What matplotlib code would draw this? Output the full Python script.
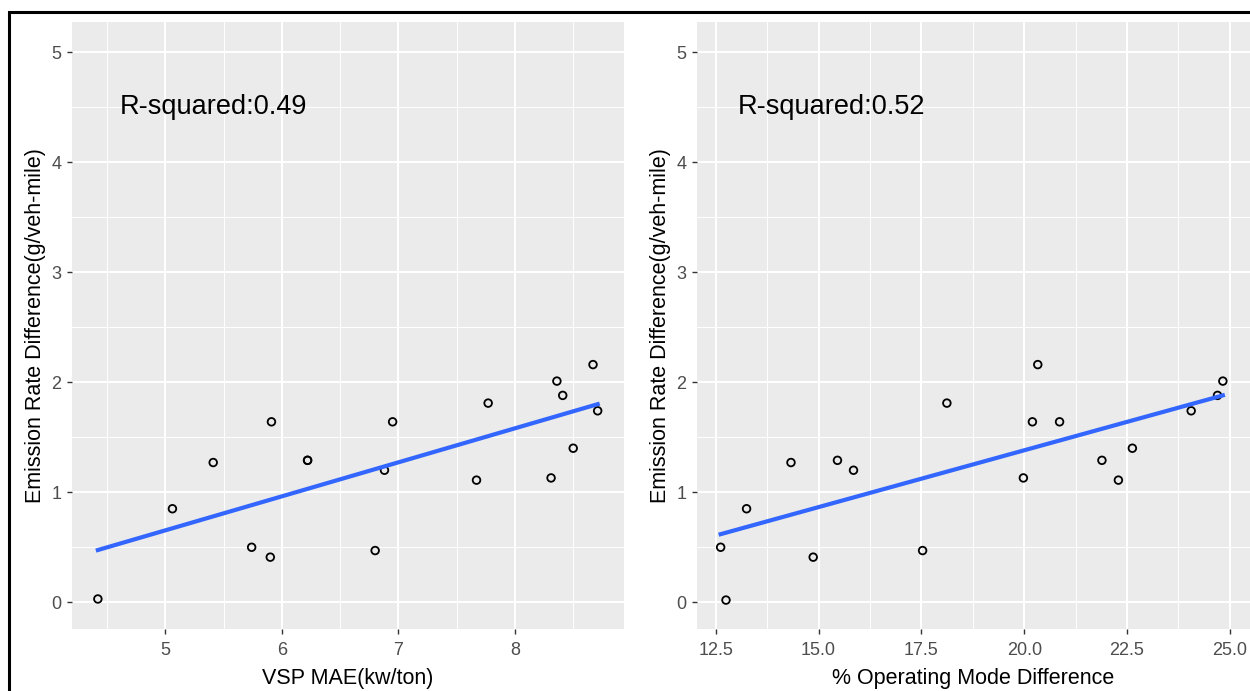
import numpy as np
import matplotlib
matplotlib.use("Agg")
import matplotlib.pyplot as plt
from matplotlib.ticker import MultipleLocator
from matplotlib.patches import Rectangle

plt.rcParams['font.family'] = ['Liberation Sans', 'DejaVu Sans']

# --- donnees ----------------------------------------------------------
vsp_mae = [4.42, 5.06, 5.41, 5.74, 5.90, 5.91, 6.22, 6.22, 6.80, 6.88,
           6.95, 7.67, 7.77, 8.31, 8.36, 8.41, 8.50, 8.67, 8.71]
emis_vsp = [0.03, 0.85, 1.27, 0.50, 0.41, 1.64, 1.29, 1.29, 0.47, 1.20,
            1.64, 1.11, 1.81, 1.13, 2.01, 1.88, 1.40, 2.16, 1.74]

opmode_diff = [12.62, 12.75, 13.25, 14.33, 14.87, 15.46, 15.85, 17.53, 18.12,
               19.98, 20.20, 20.33, 20.86, 21.89, 22.29, 22.63, 24.06, 24.70, 24.83]
emis_op = [0.50, 0.02, 0.85, 1.27, 0.41, 1.29, 1.20, 0.47, 1.81,
           1.13, 1.64, 2.16, 1.64, 1.29, 1.11, 1.40, 1.74, 1.88, 2.01]

r2_labels = ["R-squared:0.49", "R-squared:0.52"]
x_titles = ["VSP MAE(kw/ton)", "% Operating Mode Difference"]
y_title = "Emission Rate Difference(g/veh-mile)"

GRIS = "#EBEBEB"
BLEU = "#3366FF"


def panel(ax, x, y, xlim, major, label, r2, r2_x):
    ax.set_facecolor(GRIS)
    ax.scatter(x, y, s=30, facecolors="none", edgecolors="black",
               linewidths=1.3, zorder=3)
    # droite de regression (lm)
    a, b = np.polyfit(x, y, 1)
    xs = np.linspace(min(x), max(x), 80)
    ax.plot(xs, a * xs + b, color=BLEU, lw=3.0, zorder=4)

    ax.set_xlim(*xlim)
    ax.set_ylim(-0.243, 5.273)
    ax.xaxis.set_major_locator(MultipleLocator(major))
    ax.xaxis.set_minor_locator(MultipleLocator(major / 2))
    ax.yaxis.set_major_locator(MultipleLocator(1))
    ax.yaxis.set_minor_locator(MultipleLocator(0.5))
    ax.grid(which="major", color="white", lw=1.5)
    ax.grid(which="minor", color="white", lw=0.7)
    ax.set_axisbelow(True)
    for s in ax.spines.values():
        s.set_visible(False)
    ax.tick_params(which="major", length=3.5, width=1, color="#333333",
                   labelcolor="#4D4D4D", labelsize=13, pad=4)
    ax.tick_params(axis="x", which="major", pad=6)
    ax.tick_params(which="minor", length=0)
    ax.set_xlabel(label, fontsize=15.5, labelpad=6)
    ax.set_ylabel(y_title, fontsize=15.5, labelpad=4)
    ax.text(r2_x, 4.5, r2, fontsize=19.5, va="center", ha="left")


fig = plt.figure(figsize=(12.5, 6.91), dpi=100)
ax1 = fig.add_axes([0.0576, 0.0897, 0.4416, 0.8784])
ax2 = fig.add_axes([0.5576, 0.0897, 0.4424, 0.8784])

panel(ax1, vsp_mae, emis_vsp, (4.198, 8.936), 1.0, x_titles[0], r2_labels[0], 4.61)
panel(ax2, opmode_diff, emis_op, (12.045, 25.49), 2.5, x_titles[1], r2_labels[1], 13.03)
ax2.xaxis.set_major_formatter(matplotlib.ticker.FormatStrFormatter("%.1f"))

# cadre noir autour de l'image
fig.patches.append(Rectangle((9 / 1250, -0.05), 1.2, 1 - 12 / 691 + 0.05,
                             transform=fig.transFigure, fill=False,
                             edgecolor="black", lw=2.2))

fig.savefig("out.png", dpi=100)
